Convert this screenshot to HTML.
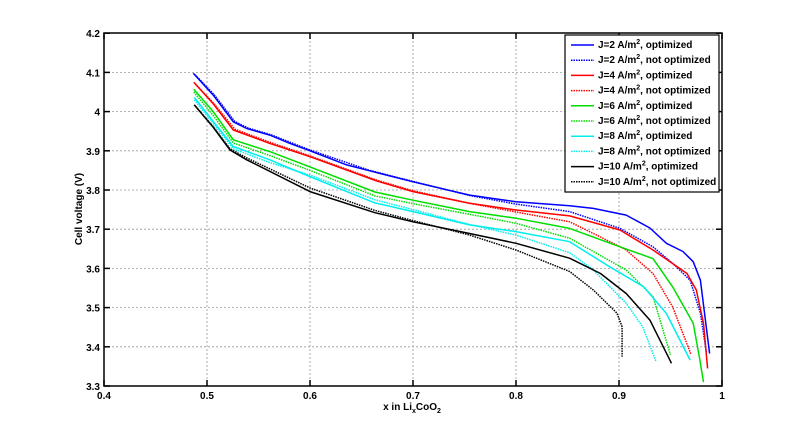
<!DOCTYPE html>
<html><head><meta charset="utf-8"><style>
body{margin:0;background:#fff;width:800px;height:434px;overflow:hidden}
svg text{font-family:"Liberation Sans",Arial,sans-serif;font-weight:bold;font-size:10px;fill:#000}
</style></head><body>
<svg id="s" width="800" height="434" xmlns="http://www.w3.org/2000/svg">
<rect width="800" height="434" fill="#fff"/>
<g id="grid" stroke="#999" stroke-dasharray="2,2" stroke-width="0.8"></g>
<g id="curves" fill="none" stroke-width="1.5"></g>
<rect x="104" y="33" width="618" height="353" fill="none" stroke="#000" stroke-width="1.5"/>
<g id="ticks" stroke="#000" stroke-width="1.5"></g>
<g id="labels"></g>
<text x="82" y="209" text-anchor="middle" transform="rotate(-90 82 209)">Cell voltage (V)</text>
<text x="412" y="410" text-anchor="middle">x in Li<tspan font-size="7" dy="3">x</tspan><tspan dy="-3">CoO</tspan><tspan font-size="7" dy="3">2</tspan></text>
<g id="legend"></g>
</svg>
<script>
const NS="http://www.w3.org/2000/svg";
const X=x=>104+(x-0.4)*1030, Y=v=>386-(v-3.3)*392;
function el(p,t,a,txt){const e=document.createElementNS(NS,t);for(const k in a)e.setAttribute(k,a[k]);if(txt!=null)e.textContent=txt;document.getElementById(p).appendChild(e);return e;}
for(let i=1;i<6;i++){const x=X(0.4+i*0.1);el('grid','line',{x1:x,y1:33,x2:x,y2:386});}
for(let i=1;i<9;i++){const y=Y(3.3+i*0.1);el('grid','line',{x1:104,y1:y,x2:722,y2:y});}
for(let i=0;i<=6;i++){const x=X(0.4+i*0.1);el('ticks','line',{x1:x,y1:386,x2:x,y2:380});el('ticks','line',{x1:x,y1:33,x2:x,y2:39});
 el('labels','text',{x:x,y:399,'text-anchor':'middle'},i==6?'1':(0.4+i*0.1).toFixed(1));}
for(let i=0;i<=9;i++){const v=3.3+i*0.1,y=Y(v);el('ticks','line',{x1:104,y1:y,x2:110,y2:y});el('ticks','line',{x1:722,y1:y,x2:716,y2:y});
 let s=v.toFixed(1);if(s=='4.0')s='4';el('labels','text',{x:100,y:y+4,'text-anchor':'end'},s);}
const C={b:'#0000ff',r:'#ff0000',g:'#00dd00',c:'#00eeee',k:'#000'};
const data=[
['b',0,[[.4867,4.098],[.506,4.042],[.5255,3.974],[.5385,3.957],[.561,3.94],[.5806,3.919],[.6,3.9],[.6356,3.864],[.658,3.849],[.7,3.821],[.755,3.787],[.8,3.77],[.852,3.76],[.875,3.753],[.907,3.736],[.930,3.703],[.946,3.664],[.962,3.643],[.972,3.617],[.979,3.57],[.988,3.383]]],
['b',1,[[.4885,4.094],[.507,4.043],[.527,3.975],[.54,3.958],[.562,3.941],[.6,3.902],[.658,3.85],[.7,3.822],[.755,3.786],[.8,3.764],[.852,3.745],[.901,3.702],[.933,3.655],[.952,3.613],[.969,3.57],[.979,3.486],[.985,3.384]]],
['r',0,[[.4872,4.075],[.506,4.02],[.5255,3.953],[.561,3.919],[.6,3.885],[.665,3.823],[.7,3.796],[.755,3.766],[.8,3.749],[.852,3.734],[.901,3.698],[.933,3.647],[.966,3.587],[.975,3.545],[.982,3.46],[.986,3.345]]],
['r',1,[[.4885,4.071],[.507,4.02],[.527,3.955],[.562,3.921],[.6,3.887],[.665,3.825],[.7,3.798],[.755,3.766],[.8,3.744],[.852,3.719],[.882,3.68],[.907,3.647],[.933,3.587],[.952,3.502],[.97,3.38]]],
['g',0,[[.4872,4.057],[.506,4.0],[.5255,3.928],[.561,3.898],[.6,3.859],[.663,3.795],[.7,3.774],[.755,3.745],[.8,3.728],[.852,3.702],[.901,3.655],[.933,3.625],[.952,3.553],[.972,3.46],[.978,3.375],[.982,3.31]]],
['g',1,[[.4872,4.05],[.506,3.99],[.5255,3.92],[.561,3.888],[.6,3.85],[.663,3.785],[.7,3.765],[.755,3.738],[.8,3.715],[.852,3.677],[.875,3.643],[.907,3.596],[.933,3.528],[.95,3.379]]],
['c',0,[[.4877,4.036],[.506,3.975],[.5255,3.911],[.561,3.877],[.6,3.834],[.663,3.767],[.7,3.745],[.755,3.711],[.8,3.694],[.852,3.668],[.891,3.604],[.924,3.553],[.946,3.485],[.969,3.366]]],
['c',1,[[.4877,4.03],[.506,3.97],[.5255,3.905],[.561,3.87],[.6,3.838],[.663,3.775],[.7,3.75],[.755,3.712],[.8,3.685],[.852,3.64],[.875,3.596],[.907,3.511],[.923,3.451],[.936,3.362]]],
['k',0,[[.4877,4.017],[.506,3.96],[.5223,3.902],[.5385,3.877],[.6,3.796],[.663,3.742],[.7,3.719],[.755,3.689],[.8,3.664],[.852,3.626],[.882,3.587],[.907,3.536],[.930,3.468],[.951,3.358]]],
['k',1,[[.4877,4.017],[.506,3.962],[.5223,3.905],[.5385,3.882],[.6,3.805],[.663,3.748],[.7,3.722],[.755,3.685],[.8,3.647],[.852,3.592],[.875,3.545],[.898,3.486],[.903,3.451],[.903,3.375]]]];
data.forEach(([c,d,p])=>{const a={points:p.map(q=>X(q[0]).toFixed(1)+','+Y(q[1]).toFixed(1)).join(' '),stroke:C[c],'stroke-linejoin':'round'};if(d)a['stroke-dasharray']='1.5,1';el('curves','polyline',a);});
el('legend','rect',{x:565,y:35,width:154,height:157,fill:'#fff',stroke:'#000','stroke-width':1.2});
const names=['J=2','J=2','J=4','J=4','J=6','J=6','J=8','J=8','J=10','J=10'];
data.forEach(([c,d],i)=>{const y=48+i*15.2;const a={x1:571,y1:y-3,x2:594,y2:y-3,stroke:C[c],'stroke-width':1.5};if(d)a['stroke-dasharray']='1.5,1';el('legend','line',a);
 const t=el('legend','text',{x:598,y:y});t.innerHTML=names[i]+' A/m<tspan font-size="7" dy="-4">2</tspan><tspan dy="4">, '+(d?'not optimized':'optimized')+'</tspan>';});
</script>
</body></html>
